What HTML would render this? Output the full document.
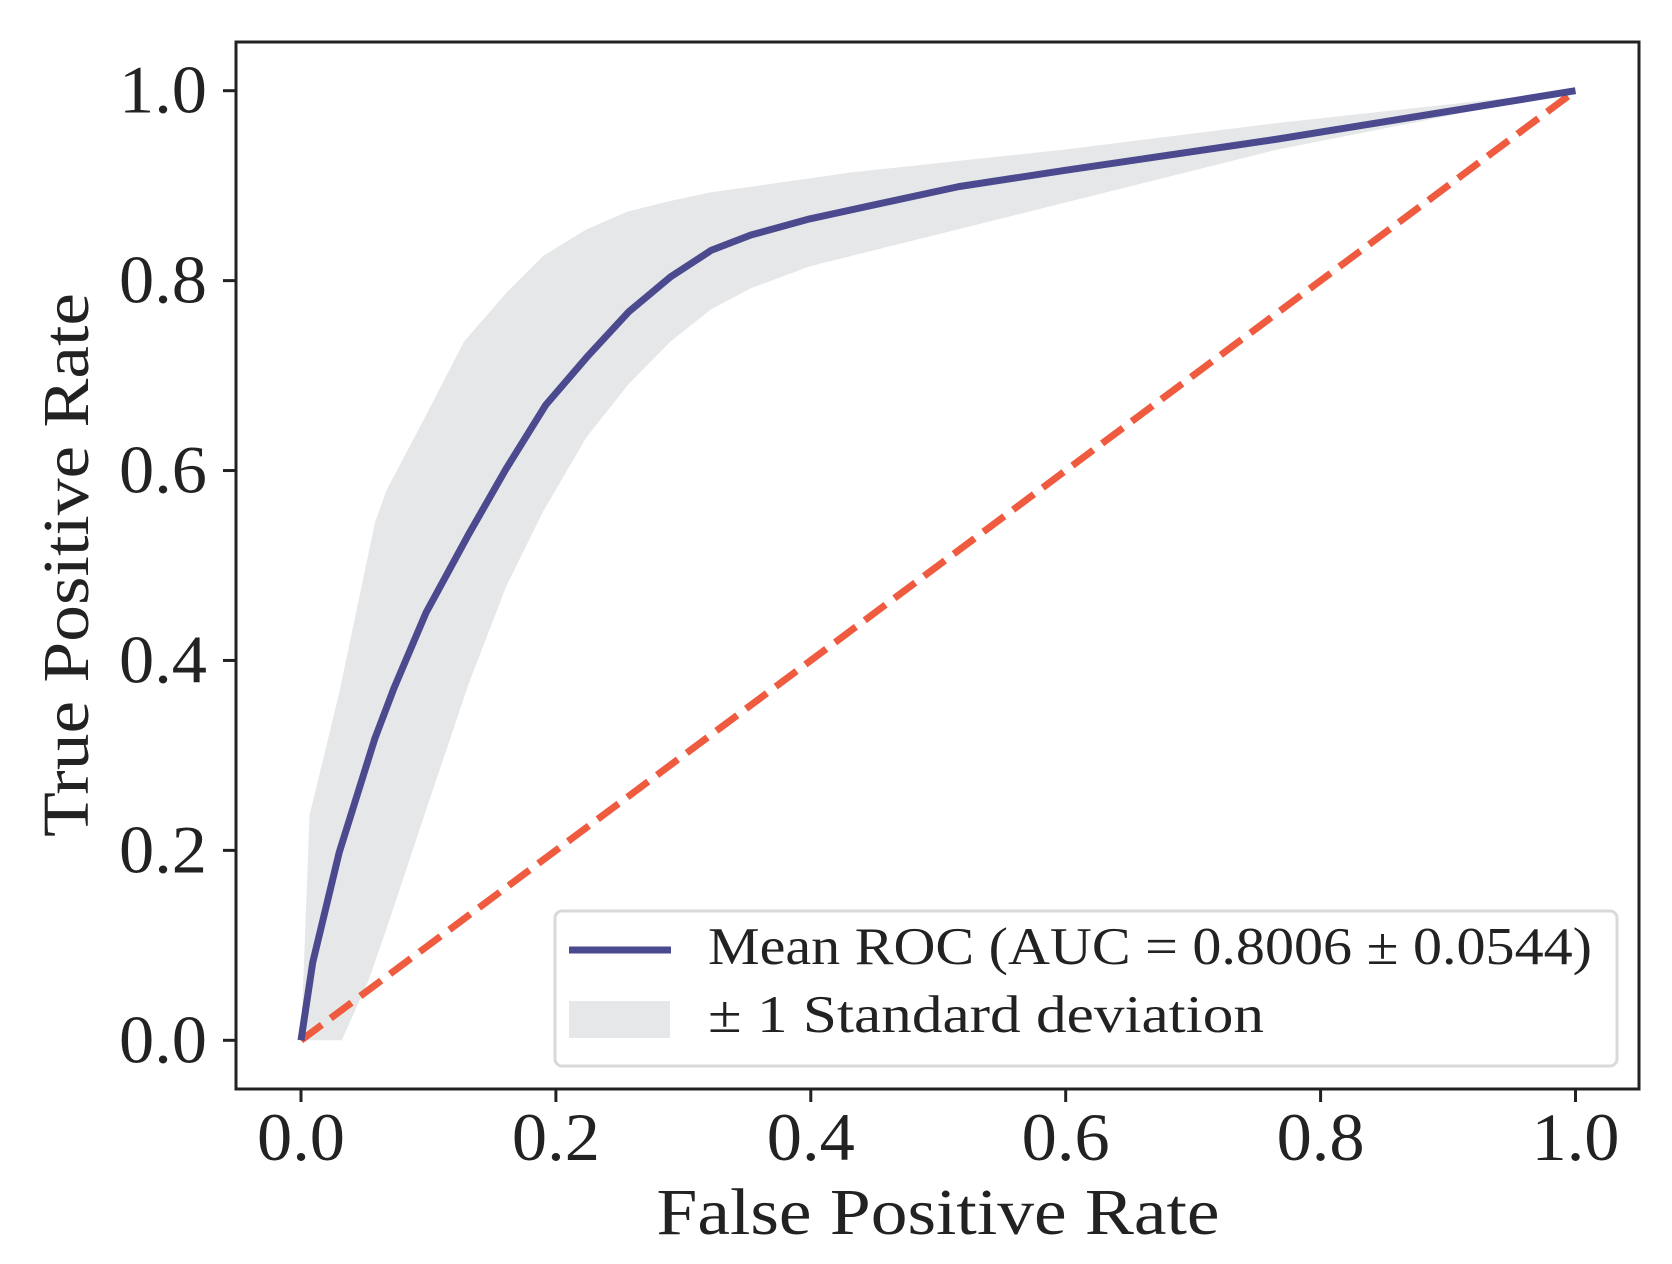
<!DOCTYPE html>
<html><head><meta charset="utf-8">
<style>
html,body{margin:0;padding:0;background:#fff;}
svg{display:block;}
text{font-family:"Liberation Serif","DejaVu Serif",serif;fill:#222;}
</style></head>
<body>
<svg id="chart" width="1672" height="1264" viewBox="0 0 1672 1264" xmlns="http://www.w3.org/2000/svg">
  <g id="band-layer"></g>
  <g id="line-layer"></g>
  <rect x="236" y="42" width="1403" height="1047" fill="none" stroke="#222" stroke-width="3"/>
  <g id="xticks"></g>
  <g id="yticks"></g>
  <text x="938" y="1234" font-size="66" text-anchor="middle" textLength="563" lengthAdjust="spacingAndGlyphs">False Positive Rate</text>
  <text transform="translate(88,565) rotate(-90)" font-size="66" text-anchor="middle" textLength="544" lengthAdjust="spacingAndGlyphs">True Positive Rate</text>
  <g>
    <rect x="555" y="911" width="1062" height="155" rx="7" fill="#fff" stroke="#d8d9db" stroke-width="3"/>
    <line x1="569" y1="950" x2="671" y2="950" stroke="#4b4a8e" stroke-width="7"/>
    <text x="708" y="964" font-size="53" textLength="884" lengthAdjust="spacingAndGlyphs">Mean ROC (AUC = 0.8006 ± 0.0544)</text>
    <rect x="569" y="1001" width="101" height="37" fill="#e6e7e9"/>
    <text x="708" y="1032" font-size="53" textLength="556" lengthAdjust="spacingAndGlyphs">± 1 Standard deviation</text>
  </g>
</svg>
<script>
const meanFpr = [0,0.0092,0.030,0.058,0.073,0.098,0.132,0.161,0.192,0.224,0.257,0.290,0.322,0.353,0.399,0.516,0.599,0.766,1];
const meanTpr = [0,0.082,0.198,0.318,0.371,0.450,0.534,0.602,0.669,0.719,0.767,0.804,0.832,0.848,0.865,0.899,0.916,0.949,1];
const upperFpr = [0,0.0067,0.030,0.058,0.067,0.098,0.128,0.161,0.190,0.224,0.257,0.290,0.322,0.432,0.599,0.766,1];
const upperTpr = [0,0.237,0.366,0.545,0.579,0.658,0.736,0.787,0.826,0.854,0.873,0.884,0.893,0.914,0.938,0.966,1];
const lowerFpr = [0,0.032,0.053,0.069,0.098,0.132,0.161,0.190,0.224,0.257,0.290,0.322,0.353,0.399,0.599,0.766,1];
const lowerTpr = [0,0,0.063,0.125,0.242,0.377,0.478,0.557,0.635,0.691,0.736,0.770,0.792,0.815,0.882,0.938,1];
const chanceX = [0,1];
const chanceY = [0,1];
const xTickVals = [0,0.2,0.4,0.6,0.8,1.0];
const xTickLabels = ["0.0","0.2","0.4","0.6","0.8","1.0"];
const yTickVals = [0,0.2,0.4,0.6,0.8,1.0];
const yTickLabels = ["0.0","0.2","0.4","0.6","0.8","1.0"];

const NS = "http://www.w3.org/2000/svg";
function sx(v){ return 301 + v * (1575.5 - 301); }
function sy(v){ return 1040.3 - v * (1040.3 - 90.7); }
function mk(tag, attrs, parent){
  const e = document.createElementNS(NS, tag);
  for (const k in attrs) e.setAttribute(k, attrs[k]);
  parent.appendChild(e);
  return e;
}

const band = document.getElementById('band-layer');
let pts = [];
for (let i = 0; i < upperFpr.length; i++) pts.push(sx(upperFpr[i]) + ',' + sy(upperTpr[i]));
for (let i = lowerFpr.length - 1; i >= 0; i--) pts.push(sx(lowerFpr[i]) + ',' + sy(lowerTpr[i]));
const bandPoly = mk('polygon', {points: pts.join(' '), fill: '#e6e7e9'}, band);



const lines = document.getElementById('line-layer');
const chance = mk('polyline', {points: chanceX.map((x,i)=>sx(x)+','+sy(chanceY[i])).join(' '), fill:'none', stroke:'#ef5b3f', 'stroke-width':7, 'stroke-dasharray':'26,11'}, lines);


const mean = mk('polyline', {points: meanFpr.map((x,i)=>sx(x)+','+sy(meanTpr[i])).join(' '), fill:'none', stroke:'#4b4a8e', 'stroke-width':7, 'stroke-linejoin':'round'}, lines);



const xg = document.getElementById('xticks');
xTickVals.forEach((v,i)=>{
  const t = mk('line', {x1:sx(v), x2:sx(v), y1:1089, y2:1102, stroke:'#222', 'stroke-width':3}, xg);
  
  
  const l = mk('text', {x:sx(v), y:1160, 'font-size':68, 'text-anchor':'middle', textLength:88, lengthAdjust:'spacingAndGlyphs'}, xg);
  l.textContent = xTickLabels[i];
  
  
});
const yg = document.getElementById('yticks');
yTickVals.forEach((v,i)=>{
  const t = mk('line', {x1:223, x2:236, y1:sy(v), y2:sy(v), stroke:'#222', 'stroke-width':3}, yg);
  
  
  const l = mk('text', {x:207, y:sy(v)+22, 'font-size':68, 'text-anchor':'end', textLength:88, lengthAdjust:'spacingAndGlyphs'}, yg);
  l.textContent = yTickLabels[i];
  
  
});
</script>
</body></html>
